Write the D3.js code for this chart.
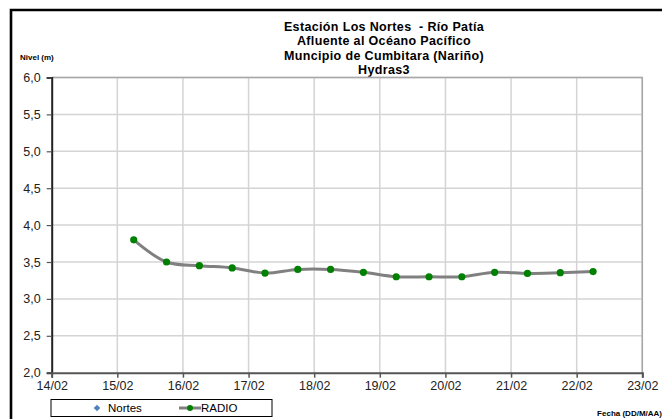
<!DOCTYPE html>
<html><head><meta charset="utf-8">
<script src="https://cdn.jsdelivr.net/npm/d3@7"></script>
<style>
html,body{margin:0;padding:0;background:#fff;}
svg{display:block;font-family:"Liberation Sans",Arial,sans-serif;}
</style></head>
<body>
<svg id="chart" width="662" height="419"></svg>
<script>
const titleLines = ["Estación Los Nortes  - Río Patía","Afluente al Océano Pacífico","Muncipio de Cumbitara (Nariño)","Hydras3"];
const dates = ["2011-02-15T06:00","2011-02-15T18:00","2011-02-16T06:00","2011-02-16T18:00","2011-02-17T06:00","2011-02-17T18:00","2011-02-18T06:00","2011-02-18T18:00","2011-02-19T06:00","2011-02-19T18:00","2011-02-20T06:00","2011-02-20T18:00","2011-02-21T06:00","2011-02-21T18:00","2011-02-22T06:00"];
const radio = [3.80,3.50,3.45,3.42,3.35,3.40,3.40,3.36,3.30,3.30,3.30,3.36,3.345,3.355,3.37];
const yTicks = [2.0,2.5,3.0,3.5,4.0,4.5,5.0,5.5,6.0];
const xDomain = ["2011-02-14T00:00","2011-02-23T00:00"];

const svg = d3.select("#chart");
const parse = d3.timeParse("%Y-%m-%dT%H:%M");
const data = dates.map((d,i)=>({t:parse(d), v:radio[i]}));

const x = d3.scaleTime().domain(xDomain.map(parse)).range([51.7,642.3]);
const y = d3.scaleLinear().domain([2,6]).range([372.7,77.5]);
const xTickVals = d3.timeDay.range(parse(xDomain[0]), d3.timeDay.offset(parse(xDomain[1]),1));

// outer border
svg.append("path").attr("d","M11,420 L11,10 L663,10").attr("fill","none").attr("stroke","#000").attr("stroke-width",2.6);

// title
const title = svg.append("text").attr("x",384).attr("text-anchor","middle")
  .attr("font-weight","bold").attr("font-size",12.5).attr("letter-spacing",0.35).attr("fill","#000")
  .style("white-space","pre");
titleLines.forEach((l,i)=>title.append("tspan").attr("x",384).attr("y",31+i*14.3).text(l));

svg.append("text").attr("x",20).attr("y",60).attr("font-size",8).attr("font-weight","bold").text("Nivel (m)");
svg.append("text").attr("x",662).attr("y",416).attr("text-anchor","end").attr("font-size",8).attr("font-weight","bold").text("Fecha (DD/M/AA)");

// grid
const g = svg.append("g");
g.selectAll("line.hg").data(yTicks.slice(1)).join("line")
  .attr("x1",51.7).attr("x2",642.3).attr("y1",d=>y(d)).attr("y2",d=>y(d))
  .attr("stroke","#d4d4d4").attr("stroke-width",1.5);
g.selectAll("line.vg").data(xTickVals.slice(1)).join("line")
  .attr("x1",d=>x(d)).attr("x2",d=>x(d)).attr("y1",y(6)).attr("y2",y(2))
  .attr("stroke","#d4d4d4").attr("stroke-width",1.5);
// plot border right/top
g.append("path").attr("d",`M51.7,${y(6)} L642.3,${y(6)} L642.3,${y(2)}`).attr("fill","none").attr("stroke","#a8a8a8").attr("stroke-width",1.5);

// axes
const fmtY = d=>d3.format(".1f")(d).replace(".",",");
const yAxis = svg.append("g").attr("transform","translate(51.7,0)")
  .call(d3.axisLeft(y).tickValues(yTicks).tickFormat(fmtY).tickSize(5).tickPadding(6));
yAxis.select(".domain").attr("stroke","#222").attr("stroke-width",2);
yAxis.selectAll(".tick line").attr("stroke","#555").attr("stroke-width",1.2);
yAxis.selectAll("text").attr("font-size",12.5).attr("fill","#222").attr("font-family","Liberation Sans, Arial, sans-serif");

const xAxis = svg.append("g").attr("transform",`translate(0,${y(2)})`)
  .call(d3.axisBottom(x).tickValues(xTickVals).tickFormat(d3.timeFormat("%d/%m")).tickSize(5).tickPadding(3));
xAxis.select(".domain").attr("stroke","#555").attr("stroke-width",2);
xAxis.selectAll(".tick line").attr("stroke","#555").attr("stroke-width",1.5);
xAxis.selectAll("text").attr("font-size",12.5).attr("fill","#222").attr("font-family","Liberation Sans, Arial, sans-serif");

// line
const line = d3.line().x(d=>x(d.t)).y(d=>y(d.v)).curve(d3.curveCatmullRom.alpha(0.5));
svg.append("path").datum(data).attr("d",line).attr("fill","none").attr("stroke","#808080").attr("stroke-width",3);
svg.selectAll("circle.pt").data(data).join("circle").attr("class","pt")
  .attr("cx",d=>x(d.t)).attr("cy",d=>y(d.v)).attr("r",3.6).attr("fill","#008000");

// legend
const lg = svg.append("g");
lg.append("rect").attr("x",51).attr("y",399.5).attr("width",221).attr("height",17).attr("fill","#fff").attr("stroke","#000").attr("stroke-width",1);
lg.append("path").attr("d",d3.symbol().type(d3.symbolSquare).size(22)()).attr("transform","translate(97,408) rotate(45)").attr("fill","#4f81bd");
lg.append("text").attr("x",108).attr("y",412).attr("font-size",11.5).text("Nortes");
lg.append("line").attr("x1",179).attr("x2",201).attr("y1",408).attr("y2",408).attr("stroke","#808080").attr("stroke-width",3);
lg.append("circle").attr("cx",190).attr("cy",408).attr("r",3).attr("fill","#008000");
lg.append("text").attr("x",201).attr("y",412).attr("font-size",11.5).text("RADIO");
</script>
</body></html>
